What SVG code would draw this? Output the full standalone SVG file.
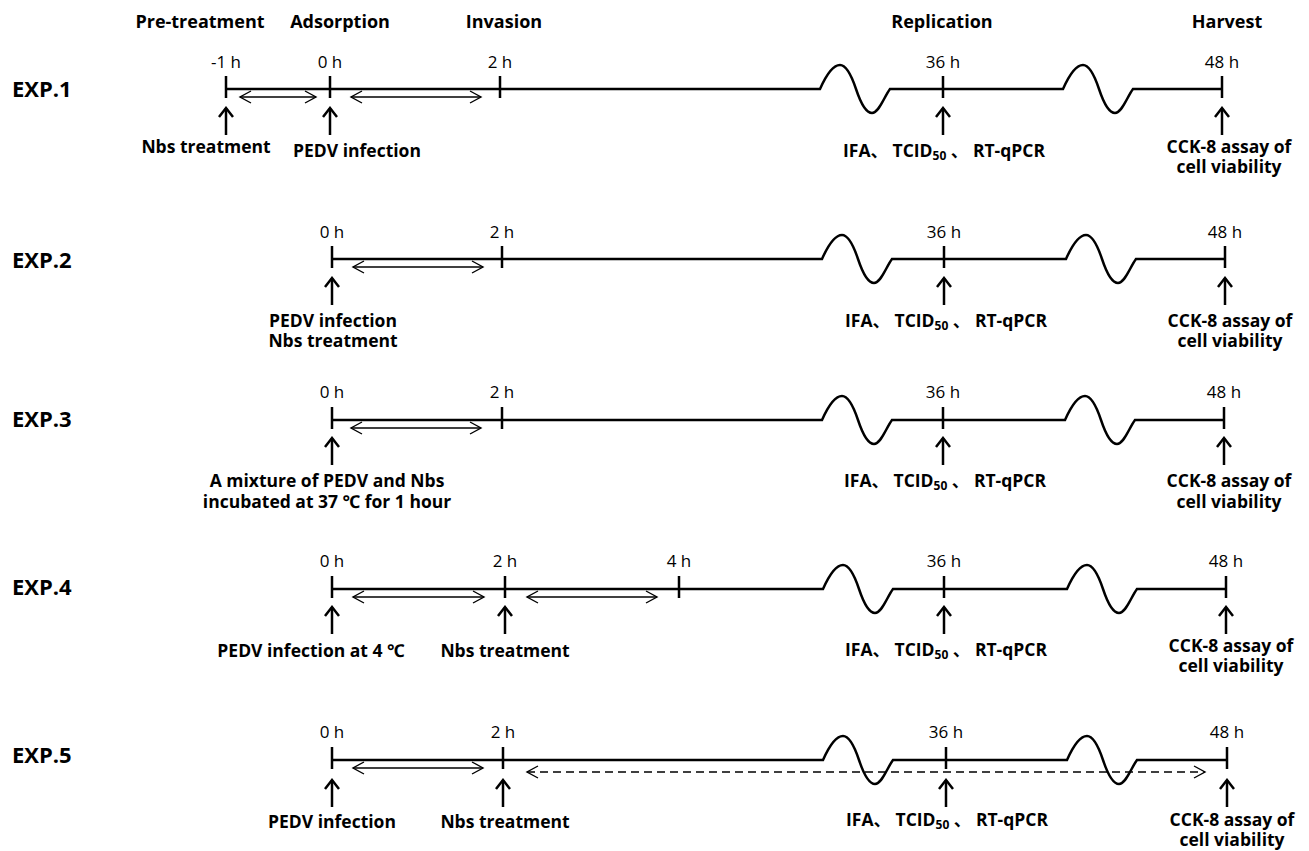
<svg xmlns="http://www.w3.org/2000/svg" width="1309" height="851" viewBox="0 0 1309 851">
<style>
text{font-family:"Open Sans","Noto Sans","Noto Sans CJK SC",sans-serif;fill:#000}
.hd{font-size:18px;font-weight:bold;text-anchor:middle}
.exp{font-size:22px;font-weight:bold}
.t{font-size:17px;text-anchor:middle}
.lb{font-size:17.5px;font-weight:bold;text-anchor:middle}
.sub{font-size:12px}
.tl{fill:none;stroke:#000;stroke-width:2.5}
.tick{stroke:#000;stroke-width:2.5}
.up{stroke:#000;stroke-width:2.5;marker-end:url(#uph)}
.dbl{stroke:#000;stroke-width:1.4;marker-start:url(#chev);marker-end:url(#chev)}
.dash{stroke:#000;stroke-width:1.4;stroke-dasharray:8 5;marker-start:url(#chev);marker-end:url(#chev)}
</style>
<defs>
<marker id="chev" viewBox="-12 -8 14 16" markerWidth="14" markerHeight="16" refX="0" refY="0" orient="auto-start-reverse" markerUnits="userSpaceOnUse">
<path d="M-11,-6 L0,0 L-11,6" fill="none" stroke="#000" stroke-width="1.4"/>
</marker>
<marker id="uph" viewBox="-12 -9 14 18" markerWidth="14" markerHeight="18" refX="0" refY="0" orient="auto" markerUnits="userSpaceOnUse">
<path d="M-9,-7 L0,0 L-9,7" fill="none" stroke="#000" stroke-width="2.5"/>
</marker>
</defs>

<g id="headers">
<text class="hd" x="200" y="28">Pre-treatment</text>
<text class="hd" x="340" y="28">Adsorption</text>
<text class="hd" x="504" y="28">Invasion</text>
<text class="hd" x="942" y="28">Replication</text>
<text class="hd" x="1227" y="28">Harvest</text>
</g>

<g id="exp1">
<text class="exp" x="12" y="97">EXP.1</text>
<path class="tl" d="M226 89 H820 C828 71,834 65,840 65 C847 65,852 77,856 89 C860 101,865 113,872 113 C879 113,884 97,890 89 H1063 C1071 71,1077 65,1083 65 C1090 65,1095 77,1099 89 C1103 101,1108 113,1115 113 C1122 113,1127 97,1133 89 H1222"/>
<path class="tick" d="M226 76 V98 M330 76 V98 M500 76 V98 M943 76 V98 M1222 76 V98"/>
<text class="t" x="226" y="68">-1 h</text>
<text class="t" x="330" y="68">0 h</text>
<text class="t" x="500" y="68">2 h</text>
<text class="t" x="943" y="68">36 h</text>
<text class="t" x="1222" y="68">48 h</text>
<text class="lb" x="206" y="153">Nbs treatment</text>
<text class="lb" x="357" y="157">PEDV infection</text>
<text class="lb" x="944" y="157">IFA、 TCID<tspan class="sub" dy="3">50</tspan><tspan dy="-3"> 、 RT-qPCR</tspan></text>
<text class="lb" x="1229" y="153">CCK-8 assay of</text>
<text class="lb" x="1229" y="173">cell viability</text>
</g>

<g id="exp2">
<text class="exp" x="12" y="268">EXP.2</text>
<path class="tl" d="M332 259 H822 C830 241,836 235,842 235 C849 235,854 247,858 259 C862 271,867 283,874 283 C881 283,886 267,892 259 H1066 C1074 241,1080 235,1086 235 C1093 235,1098 247,1102 259 C1106 271,1111 283,1118 283 C1125 283,1130 267,1136 259 H1225"/>
<path class="tick" d="M332 246 V268 M502 246 V268 M944 246 V268 M1225 246 V268"/>
<text class="t" x="332" y="238">0 h</text>
<text class="t" x="502" y="238">2 h</text>
<text class="t" x="944" y="238">36 h</text>
<text class="t" x="1225" y="238">48 h</text>
<text class="lb" x="333" y="327">PEDV infection</text>
<text class="lb" x="333" y="347">Nbs treatment</text>
<text class="lb" x="946" y="327">IFA、 TCID<tspan class="sub" dy="3">50</tspan><tspan dy="-3"> 、 RT-qPCR</tspan></text>
<text class="lb" x="1230" y="327">CCK-8 assay of</text>
<text class="lb" x="1230" y="347">cell viability</text>
</g>

<g id="exp3">
<text class="exp" x="12" y="427">EXP.3</text>
<path class="tl" d="M332 420 H822 C830 402,836 396,842 396 C849 396,854 408,858 420 C862 432,867 444,874 444 C881 444,886 428,892 420 H1065 C1073 402,1079 396,1085 396 C1092 396,1097 408,1101 420 C1105 432,1110 444,1117 444 C1124 444,1129 428,1135 420 H1224"/>
<path class="tick" d="M332 407 V429 M502 407 V429 M943 407 V429 M1224 407 V429"/>
<text class="t" x="332" y="398">0 h</text>
<text class="t" x="502" y="398">2 h</text>
<text class="t" x="943" y="398">36 h</text>
<text class="t" x="1224" y="398">48 h</text>
<text class="lb" x="327" y="487">A mixture of PEDV and Nbs</text>
<text class="lb" x="327" y="508">incubated at 37 ℃ for 1 hour</text>
<text class="lb" x="945" y="487">IFA、 TCID<tspan class="sub" dy="3">50</tspan><tspan dy="-3"> 、 RT-qPCR</tspan></text>
<text class="lb" x="1229" y="487">CCK-8 assay of</text>
<text class="lb" x="1229" y="508">cell viability</text>
</g>

<g id="exp4">
<text class="exp" x="12" y="595">EXP.4</text>
<path class="tl" d="M332 589 H823 C831 571,837 565,843 565 C850 565,855 577,859 589 C863 601,868 613,875 613 C882 613,887 597,893 589 H1067 C1075 571,1081 565,1087 565 C1094 565,1099 577,1103 589 C1107 601,1112 613,1119 613 C1126 613,1131 597,1137 589 H1226"/>
<path class="tick" d="M332 576 V598 M505 576 V598 M679 576 V598 M944 576 V598 M1226 576 V598"/>
<text class="t" x="332" y="567">0 h</text>
<text class="t" x="505" y="567">2 h</text>
<text class="t" x="679" y="567">4 h</text>
<text class="t" x="944" y="567">36 h</text>
<text class="t" x="1226" y="567">48 h</text>
<text class="lb" x="311" y="657">PEDV infection at 4 ℃</text>
<text class="lb" x="505" y="657">Nbs treatment</text>
<text class="lb" x="946" y="656">IFA、 TCID<tspan class="sub" dy="3">50</tspan><tspan dy="-3"> 、 RT-qPCR</tspan></text>
<text class="lb" x="1231" y="652">CCK-8 assay of</text>
<text class="lb" x="1231" y="672">cell viability</text>
</g>

<g id="exp5">
<text class="exp" x="12" y="763">EXP.5</text>
<path class="tl" d="M332 760 H823 C831 742,837 736,843 736 C850 736,855 748,859 760 C863 772,868 784,875 784 C882 784,887 768,893 760 H1067 C1075 742,1081 736,1087 736 C1094 736,1099 748,1103 760 C1107 772,1112 784,1119 784 C1126 784,1131 768,1137 760 H1227"/>
<path class="tick" d="M332 747 V769 M503 747 V769 M946 747 V769 M1227 747 V769"/>
<text class="t" x="332" y="738">0 h</text>
<text class="t" x="503" y="738">2 h</text>
<text class="t" x="946" y="738">36 h</text>
<text class="t" x="1227" y="738">48 h</text>
<text class="lb" x="332" y="828">PEDV infection</text>
<text class="lb" x="505" y="828">Nbs treatment</text>
<text class="lb" x="947" y="826">IFA、 TCID<tspan class="sub" dy="3">50</tspan><tspan dy="-3"> 、 RT-qPCR</tspan></text>
<text class="lb" x="1232" y="826">CCK-8 assay of</text>
<text class="lb" x="1232" y="846">cell viability</text>
</g>

<g id="connectors">
<line class="dbl" x1="240" y1="97" x2="316" y2="97"/>
<line class="dbl" x1="351" y1="97" x2="481" y2="97"/>
<line class="up" x1="226" y1="135" x2="226" y2="108"/>
<line class="up" x1="330" y1="135" x2="330" y2="108"/>
<line class="up" x1="943" y1="135" x2="943" y2="108"/>
<line class="up" x1="1222" y1="135" x2="1222" y2="108"/>

<line class="dbl" x1="353" y1="267" x2="483" y2="267"/>
<line class="up" x1="332" y1="305" x2="332" y2="278"/>
<line class="up" x1="944" y1="305" x2="944" y2="278"/>
<line class="up" x1="1225" y1="305" x2="1225" y2="278"/>

<line class="dbl" x1="351" y1="428" x2="481" y2="428"/>
<line class="up" x1="332" y1="465" x2="332" y2="438"/>
<line class="up" x1="943" y1="465" x2="943" y2="438"/>
<line class="up" x1="1224" y1="465" x2="1224" y2="438"/>

<line class="dbl" x1="353" y1="597" x2="484" y2="597"/>
<line class="dbl" x1="527" y1="597" x2="657" y2="597"/>
<line class="up" x1="332" y1="634" x2="332" y2="607"/>
<line class="up" x1="505" y1="634" x2="505" y2="607"/>
<line class="up" x1="944" y1="634" x2="944" y2="607"/>
<line class="up" x1="1226" y1="634" x2="1226" y2="607"/>

<line class="dbl" x1="353" y1="768" x2="483" y2="768"/>
<line class="dash" x1="527" y1="772" x2="1205" y2="772"/>
<line class="up" x1="332" y1="807" x2="332" y2="780"/>
<line class="up" x1="503" y1="807" x2="503" y2="780"/>
<line class="up" x1="946" y1="807" x2="946" y2="780"/>
<line class="up" x1="1227" y1="807" x2="1227" y2="780"/>
</g>
</svg>
